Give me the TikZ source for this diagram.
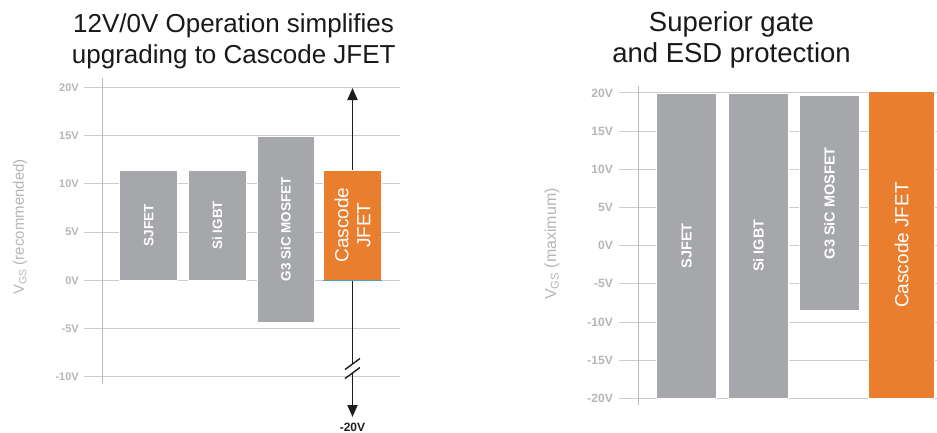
\documentclass[tikz,border=0pt]{standalone}
\usepackage{fontspec}
\setmainfont{Liberation Sans}
\usepackage{tikz}
\usetikzlibrary{arrows.meta}
\definecolor{barGray}{RGB}{166,167,171}
\definecolor{cascOrange}{RGB}{232,126,46}
\definecolor{gridGray}{RGB}{205,205,205}
\definecolor{axisGray}{RGB}{185,185,185}
\definecolor{tickGray}{RGB}{182,182,182}
\definecolor{jfetBlue}{RGB}{70,160,210}
\definecolor{arrBlack}{RGB}{30,30,30}

\begin{document}
\begin{tikzpicture}[x=1pt,y=-1pt,
    barbox/.style={fill=barGray,draw=white,line width=0.6pt,text=white,rotate=90,inner sep=0pt,font=\bfseries\fontsize{13.5}{16}\selectfont},
    casc/.style={barbox,fill=cascOrange,font=\fontsize{19}{22}\selectfont},
    gridln/.style={gridGray,line width=0.9pt},
    ticklbl/.style={anchor=east,text=tickGray,inner sep=0pt,font=\bfseries\fontsize{11}{14}\selectfont},
    axlbl/.style={rotate=90,text=tickGray,inner sep=0pt},
    heading/.style={anchor=base,text=black!90,inner sep=0pt},
    arrline/.style={line width=1.8pt,draw=arrBlack}]
    \useasboundingbox[fill=white](0,0)rectangle(937,432);
    \node[heading,font=\fontsize{26}{30}\selectfont](titleA1) at (233.5,32.7){12V/0V Operation simplifies};
    \node[heading,font=\fontsize{26}{30}\selectfont](titleA2) at (233.8,63.3){upgrading to Cascode JFET};
    \node[heading,font=\fontsize{27.5}{30}\selectfont](titleB1) at (731.5,31){Superior gate};
    \node[heading,font=\fontsize{27.5}{30}\selectfont](titleB2) at (731.5,62){and ESD protection};
    \foreach \v in {20,15,...,-10}{
        \draw[gridln](84,{280.3-9.64*\v})--(400,{280.3-9.64*\v});
        \node[ticklbl](tickA\v) at (79,{280.3-9.64*\v}){\v V};
    }
    \draw[-,axisGray,line width=1pt](102.3,78)--(102.3,384);
    \node[axlbl,font=\fontsize{15}{17}\selectfont](ylblA) at (20,227){V\textsubscript{GS} (recommended)};
    \node[barbox,minimum width=110.3pt,minimum height=58pt](sjfetA) at (148.7,225.2){SJFET};
    \node[barbox,minimum width=110.3pt,minimum height=57.3pt](igbtA) at (217.3,225.2){Si IGBT};
    \node[barbox,minimum width=186.3pt,minimum height=57.3pt](mosA) at (285.7,229.2){G3 SiC MOSFET};
    \node[casc,minimum width=110.3pt,minimum height=58pt,align=center](cascA) at (352.5,225.2){Cascode\\JFET};
    \draw[jfetBlue,line width=1pt](cascA.north west)--(cascA.south west);
    \coordinate(topA) at (352.5,88);
    \coordinate(brkA1) at (352.5,364);
    \coordinate(brkA2) at (352.5,373);
    \coordinate(botA) at (352.5,417);
    \draw[arrline,-{Triangle[width=10pt,length=12pt]}](cascA.east)--(topA);
    \draw[arrline](cascA.west)--(brkA1);
    \draw[arrline,-{Triangle[width=10pt,length=12pt]}](brkA2)--(botA);
    \draw[arrline,line width=1.4pt]([shift={(-7.5,5.5)}]brkA1)--([shift={(7.5,-5.5)}]brkA1);
    \draw[arrline,line width=1.4pt]([shift={(-7.5,5.5)}]brkA2)--([shift={(7.5,-5.5)}]brkA2);
    \node[text=arrBlack,font=\bfseries\fontsize{12}{14}\selectfont](lowA) at (352.5,427){-20V};
    \foreach \v in {20,15,...,-20}{
        \draw[gridln](619.3,{245.7-7.64*\v})--(937,{245.7-7.64*\v});
        \node[ticklbl,font=\bfseries\fontsize{12}{14}\selectfont](tickB\v) at (613,{245.7-7.64*\v}){\v V};
    }
    \draw[-,axisGray,line width=1pt](638.3,86)--(638.3,405);
    \node[axlbl,font=\fontsize{16}{18}\selectfont](ylblB) at (552,244){V\textsubscript{GS} (maximum)};
    \fill[white](716.7,96)rectangle(728.7,395);
    \node[barbox,minimum width=305.6pt,minimum height=60pt,font=\bfseries\fontsize{14.5}{17}\selectfont](sjfetB) at (686.7,245.7){SJFET};
    \node[barbox,minimum width=305.6pt,minimum height=59.6pt,font=\bfseries\fontsize{14.5}{17}\selectfont](igbtB) at (758.5,245.7){Si IGBT};
    \node[barbox,minimum width=215pt,minimum height=59.6pt,font=\bfseries\fontsize{14.5}{17}\selectfont](mosB) at (829.5,203.2){G3 SiC MOSFET};
    \node[casc,minimum width=307.4pt,minimum height=65.6pt](cascB) at (901.5,245){Cascode JFET};
\end{tikzpicture}
\end{document}
